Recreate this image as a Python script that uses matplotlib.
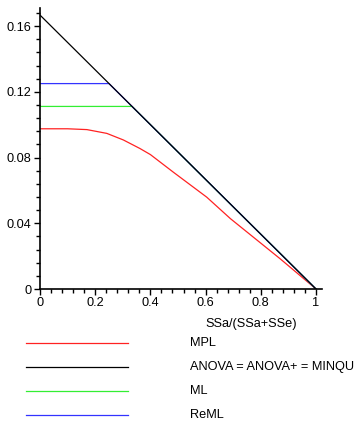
"""Maple-style comparison of variance component estimators."""

import matplotlib
matplotlib.use("Agg")
import matplotlib.pyplot as plt
from matplotlib.lines import Line2D
from matplotlib.ticker import MultipleLocator

plt.rcParams["font.family"] = ["Liberation Sans", "DejaVu Sans"]
plt.rcParams["font.size"] = 9.2

# data
mpl_x = [0.0, 0.10, 0.17, 0.242, 0.302, 0.362, 0.40, 0.483, 0.604, 0.69, 0.78, 0.87, 1.0]
mpl_y = [0.0975, 0.0975, 0.0970, 0.0947, 0.0907, 0.0855, 0.0818, 0.0711, 0.0559, 0.0428, 0.0306, 0.0184, 0.0]

anova_x = [0.0, 1.0]
anova_y = [0.1667, 0.0]

ml_x = [0.0, 0.3333, 1.0]
ml_y = [0.1111, 0.1111, 0.0]

reml_x = [0.0, 0.25, 1.0]
reml_y = [0.125, 0.125, 0.0]

labels = ["MPL", "ANOVA = ANOVA+ = MINQU", "ML", "ReML"]
colors = ["#ff2222", "#000000", "#33ee33", "#3333ff"]

W, H = 357, 422
fig = plt.figure(figsize=(W / 100, H / 100), dpi=100)
ax = fig.add_axes([40 / W, (H - 289) / H, (322 - 40) / W, (289 - 8) / H])

lw = 0.9
ax.plot(mpl_x, mpl_y, color=colors[0], lw=lw)
ax.plot(ml_x, ml_y, color=colors[2], lw=lw)
ax.plot(reml_x, reml_y, color=colors[3], lw=lw)
ax.plot(anova_x, anova_y, color=colors[1], lw=lw)

ax.set_xlim(0, 1.0217)
ax.set_ylim(0, 0.171)
for s in ["top", "right"]:
    ax.spines[s].set_visible(False)
for s in ["left", "bottom"]:
    ax.spines[s].set_linewidth(1.2)

ax.xaxis.set_minor_locator(MultipleLocator(0.04))
ax.yaxis.set_minor_locator(MultipleLocator(0.008))
ax.set_xticks([0, 0.2, 0.4, 0.6, 0.8, 1.0], ["0", "0.2", "0.4", "0.6", "0.8", "1"])
ax.set_yticks([0, 0.04, 0.08, 0.12, 0.16], ["0", "0.04", "0.08", "0.12", "0.16"])
ax.tick_params(which="major", length=4, width=1, pad=2)
ax.tick_params(which="minor", length=3, width=1)

fig.text(251 / W, 1 - 324 / H, "SSa/(SSa+SSe)", ha="center", va="center")

# legend drawn below the axes
for i, (lab, col) in enumerate(zip(labels, colors)):
    yy = 1 - (343 + 24 * i) / H
    fig.add_artist(Line2D([26 / W, 128 / W], [yy, yy], color=col, lw=lw,
                          transform=fig.transFigure))
    fig.text(190 / W, yy, lab, ha="left", va="center")

fig.savefig("out.png", dpi=100)
